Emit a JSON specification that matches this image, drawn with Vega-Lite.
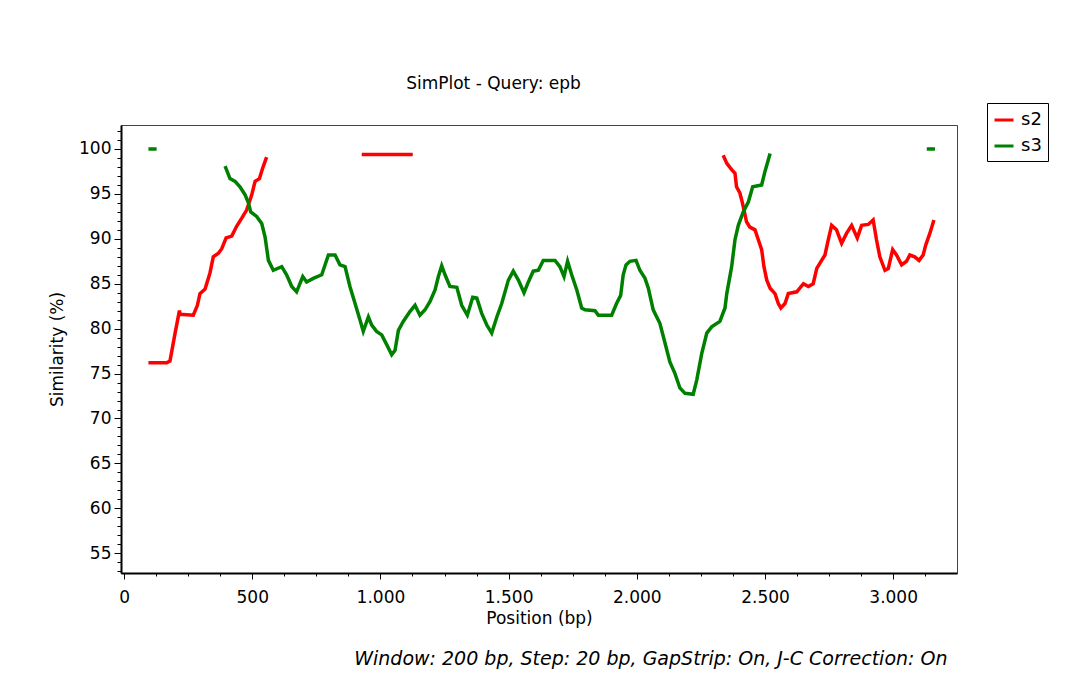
{
  "$schema": "https://vega.github.io/schema/vega-lite/v6.json",
  "width": 836,
  "height": 448,
  "autosize": {"type": "none"},
  "padding": {"left": 121, "top": 125, "right": 117, "bottom": 127},
  "background": "white",
  "title": {
    "text": "Window: 200 bp, Step: 20 bp, GapStrip: On, J-C Correction: On",
    "orient": "bottom",
    "anchor": "end",
    "font": "DejaVu Sans",
    "fontSize": 19,
    "fontStyle": "italic",
    "fontWeight": "normal",
    "color": "black",
    "offset": 24,
    "dx": -101
  },
  "data": {
    "values": [
      {"series": "s2", "seg": "a", "pos": 95, "sim": 76.2},
      {"series": "s2", "seg": "a", "pos": 166, "sim": 76.2},
      {"series": "s2", "seg": "a", "pos": 179, "sim": 76.4},
      {"series": "s2", "seg": "a", "pos": 199, "sim": 79.5},
      {"series": "s2", "seg": "a", "pos": 216, "sim": 82.0},
      {"series": "s2", "seg": "a", "pos": 219, "sim": 81.6},
      {"series": "s2", "seg": "a", "pos": 270, "sim": 81.5},
      {"series": "s2", "seg": "a", "pos": 286, "sim": 82.6},
      {"series": "s2", "seg": "a", "pos": 296, "sim": 83.9},
      {"series": "s2", "seg": "a", "pos": 316, "sim": 84.4},
      {"series": "s2", "seg": "a", "pos": 335, "sim": 86.2},
      {"series": "s2", "seg": "a", "pos": 348, "sim": 88.0},
      {"series": "s2", "seg": "a", "pos": 368, "sim": 88.4},
      {"series": "s2", "seg": "a", "pos": 381, "sim": 88.9},
      {"series": "s2", "seg": "a", "pos": 398, "sim": 90.1},
      {"series": "s2", "seg": "a", "pos": 420, "sim": 90.3},
      {"series": "s2", "seg": "a", "pos": 439, "sim": 91.4},
      {"series": "s2", "seg": "a", "pos": 459, "sim": 92.3},
      {"series": "s2", "seg": "a", "pos": 478, "sim": 93.2},
      {"series": "s2", "seg": "a", "pos": 498, "sim": 94.9},
      {"series": "s2", "seg": "a", "pos": 511, "sim": 96.4},
      {"series": "s2", "seg": "a", "pos": 528, "sim": 96.7},
      {"series": "s2", "seg": "a", "pos": 541, "sim": 97.9},
      {"series": "s2", "seg": "a", "pos": 556, "sim": 99.1},
      {"series": "s2", "seg": "b", "pos": 927, "sim": 99.4},
      {"series": "s2", "seg": "b", "pos": 1126, "sim": 99.4},
      {"series": "s2", "seg": "c", "pos": 2337, "sim": 99.3},
      {"series": "s2", "seg": "c", "pos": 2351, "sim": 98.4},
      {"series": "s2", "seg": "c", "pos": 2370, "sim": 97.7},
      {"series": "s2", "seg": "c", "pos": 2383, "sim": 97.3},
      {"series": "s2", "seg": "c", "pos": 2389, "sim": 95.8},
      {"series": "s2", "seg": "c", "pos": 2402, "sim": 95.1},
      {"series": "s2", "seg": "c", "pos": 2412, "sim": 94.0},
      {"series": "s2", "seg": "c", "pos": 2422, "sim": 92.7},
      {"series": "s2", "seg": "c", "pos": 2428, "sim": 91.9},
      {"series": "s2", "seg": "c", "pos": 2441, "sim": 91.3},
      {"series": "s2", "seg": "c", "pos": 2461, "sim": 91.0},
      {"series": "s2", "seg": "c", "pos": 2474, "sim": 89.9},
      {"series": "s2", "seg": "c", "pos": 2487, "sim": 88.8},
      {"series": "s2", "seg": "c", "pos": 2496, "sim": 86.9},
      {"series": "s2", "seg": "c", "pos": 2507, "sim": 85.4},
      {"series": "s2", "seg": "c", "pos": 2520, "sim": 84.5},
      {"series": "s2", "seg": "c", "pos": 2539, "sim": 83.9},
      {"series": "s2", "seg": "c", "pos": 2552, "sim": 82.8},
      {"series": "s2", "seg": "c", "pos": 2562, "sim": 82.3},
      {"series": "s2", "seg": "c", "pos": 2578, "sim": 82.8},
      {"series": "s2", "seg": "c", "pos": 2591, "sim": 83.9},
      {"series": "s2", "seg": "c", "pos": 2624, "sim": 84.1},
      {"series": "s2", "seg": "c", "pos": 2650, "sim": 85.0},
      {"series": "s2", "seg": "c", "pos": 2669, "sim": 84.7},
      {"series": "s2", "seg": "c", "pos": 2688, "sim": 85.0},
      {"series": "s2", "seg": "c", "pos": 2702, "sim": 86.7},
      {"series": "s2", "seg": "c", "pos": 2721, "sim": 87.6},
      {"series": "s2", "seg": "c", "pos": 2734, "sim": 88.2},
      {"series": "s2", "seg": "c", "pos": 2747, "sim": 89.9},
      {"series": "s2", "seg": "c", "pos": 2760, "sim": 91.5},
      {"series": "s2", "seg": "c", "pos": 2779, "sim": 91.0},
      {"series": "s2", "seg": "c", "pos": 2799, "sim": 89.5},
      {"series": "s2", "seg": "c", "pos": 2818, "sim": 90.6},
      {"series": "s2", "seg": "c", "pos": 2838, "sim": 91.5},
      {"series": "s2", "seg": "c", "pos": 2860, "sim": 90.1},
      {"series": "s2", "seg": "c", "pos": 2877, "sim": 91.5},
      {"series": "s2", "seg": "c", "pos": 2903, "sim": 91.6},
      {"series": "s2", "seg": "c", "pos": 2922, "sim": 92.1},
      {"series": "s2", "seg": "c", "pos": 2935, "sim": 89.9},
      {"series": "s2", "seg": "c", "pos": 2948, "sim": 88.0},
      {"series": "s2", "seg": "c", "pos": 2968, "sim": 86.5},
      {"series": "s2", "seg": "c", "pos": 2981, "sim": 86.7},
      {"series": "s2", "seg": "c", "pos": 2998, "sim": 88.8},
      {"series": "s2", "seg": "c", "pos": 3013, "sim": 88.2},
      {"series": "s2", "seg": "c", "pos": 3033, "sim": 87.1},
      {"series": "s2", "seg": "c", "pos": 3052, "sim": 87.5},
      {"series": "s2", "seg": "c", "pos": 3065, "sim": 88.2},
      {"series": "s2", "seg": "c", "pos": 3084, "sim": 88.0},
      {"series": "s2", "seg": "c", "pos": 3101, "sim": 87.6},
      {"series": "s2", "seg": "c", "pos": 3117, "sim": 88.2},
      {"series": "s2", "seg": "c", "pos": 3127, "sim": 89.3},
      {"series": "s2", "seg": "c", "pos": 3143, "sim": 90.6},
      {"series": "s2", "seg": "c", "pos": 3159, "sim": 92.1},
      {"series": "s3", "seg": "d", "pos": 95, "sim": 100.0},
      {"series": "s3", "seg": "d", "pos": 127, "sim": 100.0},
      {"series": "s3", "seg": "e", "pos": 394, "sim": 98.1},
      {"series": "s3", "seg": "e", "pos": 413, "sim": 96.7},
      {"series": "s3", "seg": "e", "pos": 433, "sim": 96.4},
      {"series": "s3", "seg": "e", "pos": 452, "sim": 95.8},
      {"series": "s3", "seg": "e", "pos": 472, "sim": 94.9},
      {"series": "s3", "seg": "e", "pos": 485, "sim": 94.0},
      {"series": "s3", "seg": "e", "pos": 494, "sim": 93.0},
      {"series": "s3", "seg": "e", "pos": 517, "sim": 92.5},
      {"series": "s3", "seg": "e", "pos": 537, "sim": 91.7},
      {"series": "s3", "seg": "e", "pos": 550, "sim": 90.2},
      {"series": "s3", "seg": "e", "pos": 563, "sim": 87.6},
      {"series": "s3", "seg": "e", "pos": 582, "sim": 86.5},
      {"series": "s3", "seg": "e", "pos": 615, "sim": 86.9},
      {"series": "s3", "seg": "e", "pos": 634, "sim": 86.0},
      {"series": "s3", "seg": "e", "pos": 654, "sim": 84.7},
      {"series": "s3", "seg": "e", "pos": 673, "sim": 84.1},
      {"series": "s3", "seg": "e", "pos": 697, "sim": 85.8},
      {"series": "s3", "seg": "e", "pos": 712, "sim": 85.2},
      {"series": "s3", "seg": "e", "pos": 738, "sim": 85.6},
      {"series": "s3", "seg": "e", "pos": 771, "sim": 86.0},
      {"series": "s3", "seg": "e", "pos": 797, "sim": 88.2},
      {"series": "s3", "seg": "e", "pos": 823, "sim": 88.2},
      {"series": "s3", "seg": "e", "pos": 842, "sim": 87.1},
      {"series": "s3", "seg": "e", "pos": 862, "sim": 86.9},
      {"series": "s3", "seg": "e", "pos": 881, "sim": 84.7},
      {"series": "s3", "seg": "e", "pos": 901, "sim": 82.8},
      {"series": "s3", "seg": "e", "pos": 920, "sim": 81.0},
      {"series": "s3", "seg": "e", "pos": 933, "sim": 79.7},
      {"series": "s3", "seg": "e", "pos": 953, "sim": 81.3},
      {"series": "s3", "seg": "e", "pos": 966, "sim": 80.4},
      {"series": "s3", "seg": "e", "pos": 985, "sim": 79.7},
      {"series": "s3", "seg": "e", "pos": 1005, "sim": 79.3},
      {"series": "s3", "seg": "e", "pos": 1025, "sim": 78.2},
      {"series": "s3", "seg": "e", "pos": 1044, "sim": 77.1},
      {"series": "s3", "seg": "e", "pos": 1057, "sim": 77.6},
      {"series": "s3", "seg": "e", "pos": 1070, "sim": 79.8},
      {"series": "s3", "seg": "e", "pos": 1089, "sim": 80.8},
      {"series": "s3", "seg": "e", "pos": 1115, "sim": 81.9},
      {"series": "s3", "seg": "e", "pos": 1135, "sim": 82.6},
      {"series": "s3", "seg": "e", "pos": 1154, "sim": 81.5},
      {"series": "s3", "seg": "e", "pos": 1174, "sim": 82.1},
      {"series": "s3", "seg": "e", "pos": 1193, "sim": 83.0},
      {"series": "s3", "seg": "e", "pos": 1213, "sim": 84.3},
      {"series": "s3", "seg": "e", "pos": 1226, "sim": 85.8},
      {"series": "s3", "seg": "e", "pos": 1239, "sim": 87.0},
      {"series": "s3", "seg": "e", "pos": 1252, "sim": 86.0},
      {"series": "s3", "seg": "e", "pos": 1271, "sim": 84.7},
      {"series": "s3", "seg": "e", "pos": 1298, "sim": 84.6},
      {"series": "s3", "seg": "e", "pos": 1317, "sim": 82.6},
      {"series": "s3", "seg": "e", "pos": 1339, "sim": 81.5},
      {"series": "s3", "seg": "e", "pos": 1360, "sim": 83.5},
      {"series": "s3", "seg": "e", "pos": 1376, "sim": 83.4},
      {"series": "s3", "seg": "e", "pos": 1395, "sim": 81.7},
      {"series": "s3", "seg": "e", "pos": 1415, "sim": 80.4},
      {"series": "s3", "seg": "e", "pos": 1434, "sim": 79.5},
      {"series": "s3", "seg": "e", "pos": 1454, "sim": 81.3},
      {"series": "s3", "seg": "e", "pos": 1473, "sim": 82.8},
      {"series": "s3", "seg": "e", "pos": 1499, "sim": 85.4},
      {"series": "s3", "seg": "e", "pos": 1518, "sim": 86.4},
      {"series": "s3", "seg": "e", "pos": 1538, "sim": 85.4},
      {"series": "s3", "seg": "e", "pos": 1560, "sim": 84.0},
      {"series": "s3", "seg": "e", "pos": 1577, "sim": 85.2},
      {"series": "s3", "seg": "e", "pos": 1596, "sim": 86.4},
      {"series": "s3", "seg": "e", "pos": 1616, "sim": 86.5},
      {"series": "s3", "seg": "e", "pos": 1635, "sim": 87.6},
      {"series": "s3", "seg": "e", "pos": 1681, "sim": 87.6},
      {"series": "s3", "seg": "e", "pos": 1700, "sim": 86.9},
      {"series": "s3", "seg": "e", "pos": 1716, "sim": 85.8},
      {"series": "s3", "seg": "e", "pos": 1730, "sim": 87.5},
      {"series": "s3", "seg": "e", "pos": 1746, "sim": 86.0},
      {"series": "s3", "seg": "e", "pos": 1766, "sim": 84.3},
      {"series": "s3", "seg": "e", "pos": 1785, "sim": 82.3},
      {"series": "s3", "seg": "e", "pos": 1798, "sim": 82.1},
      {"series": "s3", "seg": "e", "pos": 1837, "sim": 82.0},
      {"series": "s3", "seg": "e", "pos": 1850, "sim": 81.5},
      {"series": "s3", "seg": "e", "pos": 1902, "sim": 81.5},
      {"series": "s3", "seg": "e", "pos": 1921, "sim": 82.8},
      {"series": "s3", "seg": "e", "pos": 1937, "sim": 83.7},
      {"series": "s3", "seg": "e", "pos": 1947, "sim": 86.0},
      {"series": "s3", "seg": "e", "pos": 1958, "sim": 87.1},
      {"series": "s3", "seg": "e", "pos": 1973, "sim": 87.5},
      {"series": "s3", "seg": "e", "pos": 1997, "sim": 87.6},
      {"series": "s3", "seg": "e", "pos": 2012, "sim": 86.5},
      {"series": "s3", "seg": "e", "pos": 2032, "sim": 85.6},
      {"series": "s3", "seg": "e", "pos": 2045, "sim": 84.5},
      {"series": "s3", "seg": "e", "pos": 2064, "sim": 82.1},
      {"series": "s3", "seg": "e", "pos": 2090, "sim": 80.6},
      {"series": "s3", "seg": "e", "pos": 2110, "sim": 78.4},
      {"series": "s3", "seg": "e", "pos": 2129, "sim": 76.3},
      {"series": "s3", "seg": "e", "pos": 2149, "sim": 75.0},
      {"series": "s3", "seg": "e", "pos": 2168, "sim": 73.4},
      {"series": "s3", "seg": "e", "pos": 2188, "sim": 72.8},
      {"series": "s3", "seg": "e", "pos": 2220, "sim": 72.7},
      {"series": "s3", "seg": "e", "pos": 2234, "sim": 74.3},
      {"series": "s3", "seg": "e", "pos": 2253, "sim": 77.2},
      {"series": "s3", "seg": "e", "pos": 2273, "sim": 79.5},
      {"series": "s3", "seg": "e", "pos": 2292, "sim": 80.2},
      {"series": "s3", "seg": "e", "pos": 2324, "sim": 80.8},
      {"series": "s3", "seg": "e", "pos": 2344, "sim": 82.3},
      {"series": "s3", "seg": "e", "pos": 2351, "sim": 83.9},
      {"series": "s3", "seg": "e", "pos": 2370, "sim": 86.9},
      {"series": "s3", "seg": "e", "pos": 2383, "sim": 89.9},
      {"series": "s3", "seg": "e", "pos": 2396, "sim": 91.5},
      {"series": "s3", "seg": "e", "pos": 2415, "sim": 93.0},
      {"series": "s3", "seg": "e", "pos": 2435, "sim": 94.1},
      {"series": "s3", "seg": "e", "pos": 2452, "sim": 95.8},
      {"series": "s3", "seg": "e", "pos": 2487, "sim": 96.0},
      {"series": "s3", "seg": "e", "pos": 2500, "sim": 97.5},
      {"series": "s3", "seg": "e", "pos": 2520, "sim": 99.5},
      {"series": "s3", "seg": "f", "pos": 3131, "sim": 100.0},
      {"series": "s3", "seg": "f", "pos": 3163, "sim": 100.0}
    ]
  },
  "layer": [
    {
      "mark": {"type": "line", "strokeWidth": 3.5, "interpolate": "linear"},
      "encoding": {
        "x": {
          "field": "pos",
          "type": "quantitative",
          "scale": {"domain": [-12, 3249], "nice": false, "zero": false},
          "axis": {
            "orient": "bottom",
            "title": "Position (bp)",
            "values": [0, 125, 250, 375, 500, 625, 750, 875, 1000, 1125, 1250, 1375, 1500, 1625, 1750, 1875, 2000, 2125, 2250, 2375, 2500, 2625, 2750, 2875, 3000, 3125],
            "labelExpr": "datum.value % 500 == 0 ? replace(format(datum.value, ','), ',', '.') : ''",
            "tickSize": {"condition": {"test": "datum.value % 500 == 0", "value": 6}, "value": 3},
            "labelPadding": 10,
            "titlePadding": 5,
            "labelOverlap": false,
            "labelFlush": false
          }
        },
        "y": {
          "field": "sim",
          "type": "quantitative",
          "scale": {"domain": [52.8, 102.67], "nice": false, "zero": false},
          "axis": {
            "title": "Similarity (%)",
            "values": [53, 54, 55, 56, 57, 58, 59, 60, 61, 62, 63, 64, 65, 66, 67, 68, 69, 70, 71, 72, 73, 74, 75, 76, 77, 78, 79, 80, 81, 82, 83, 84, 85, 86, 87, 88, 89, 90, 91, 92, 93, 94, 95, 96, 97, 98, 99, 100, 101, 102],
            "labelExpr": "datum.value % 5 == 0 ? datum.label : ''",
            "tickSize": {"condition": {"test": "datum.value % 5 == 0", "value": 7}, "value": 4},
            "labelPadding": 3,
            "titlePadding": 12,
            "labelOverlap": false,
            "labelFlush": false
          }
        },
        "color": {
          "field": "series",
          "type": "nominal",
          "scale": {"domain": ["s2", "s3"], "range": ["#ff0000", "#008000"]},
          "legend": {
            "orient": "none",
            "legendX": 866,
            "legendY": -22,
            "title": null,
            "strokeColor": "black",
            "fillColor": "white",
            "padding": 6,
            "symbolType": "stroke",
            "symbolStrokeWidth": 3,
            "symbolSize": 361,
            "labelFont": "DejaVu Sans",
            "labelFontSize": 18,
            "labelColor": "black",
            "labelOffset": 6,
            "rowPadding": 6
          }
        },
        "detail": {"field": "seg", "type": "nominal"}
      }
    },
    {
      "mark": {"type": "point", "opacity": 0},
      "encoding": {
        "x": {
          "field": "pos",
          "type": "quantitative",
          "axis": {
            "orient": "top",
            "title": "SimPlot - Query: epb",
            "labels": false,
            "ticks": false,
            "domain": false,
            "grid": false,
            "titleX": 372,
            "titleY": -37,
            "titleAlign": "center",
            "titleBaseline": "alphabetic",
            "titleFontSize": 17
          }
        }
      }
    }
  ],
  "resolve": {"axis": {"x": "independent"}},
  "config": {
    "font": "DejaVu Sans",
    "view": {"stroke": "#444444", "strokeWidth": 1},
    "axis": {
      "grid": false,
      "domainColor": "black",
      "domainWidth": 2,
      "tickColor": "black",
      "tickWidth": 1,
      "labelFont": "DejaVu Sans",
      "labelFontSize": 17,
      "labelColor": "black",
      "titleFont": "DejaVu Sans",
      "titleFontSize": 17,
      "titleFontWeight": "normal",
      "titleColor": "black"
    }
  }
}
